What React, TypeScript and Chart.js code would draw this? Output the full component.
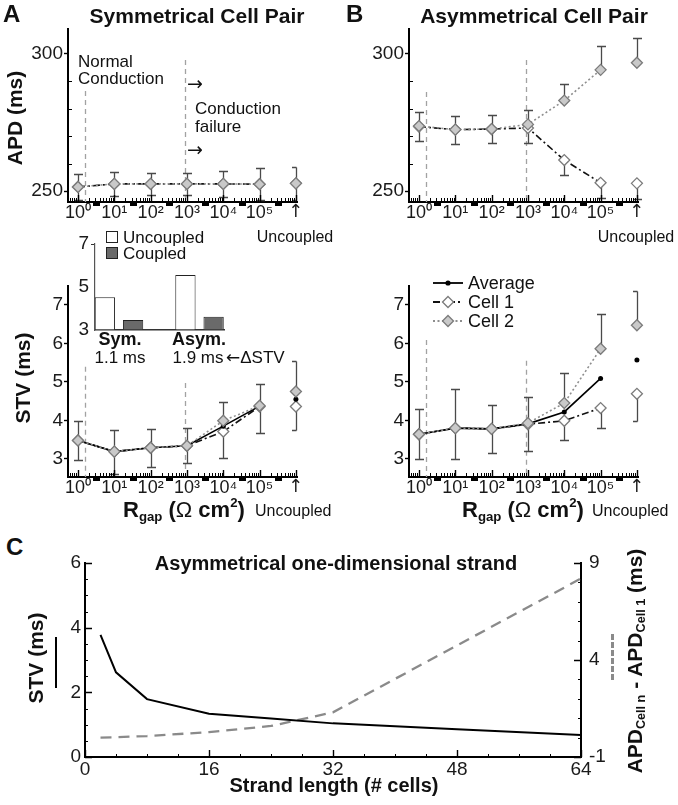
import React, { useEffect, useRef } from 'react';
import { Chart, registerables } from 'chart.js';

Chart.register(...registerables);

const SANS = '"Liberation Sans", Arial, Helvetica, sans-serif';
const ARROWFONT = '"DejaVu Sans", "Liberation Sans", sans-serif';

// ---------------- data ----------------
const rgapPositions = [0, 1, 2, 3, 4, 5, 6];
const rgapTickLabels = ['10⁰', '10¹', '10²', '10³', '10⁴', '10⁵', '↑'];
const conductionBounds = [0.19, 2.95];

// Panel A (top): APD, symmetrical cell pair
const apdSymCell1 = [251.5, 252.6, 252.6, 252.6, 252.6, 252.5, 252.8];
const apdSymCell2 = [251.5, 252.6, 252.6, 252.6, 252.6, 252.5, 252.8];
const apdSymErr = [4.7, 4.3, 4.1, 4.0, 4.7, 5.8, 6.1];
const apdSymBoundTops = [286.5, 297.8];

// Panel B (top): APD, asymmetrical cell pair
const apdAsymCell1 = [273.5, 272.4, 272.6, 273.0, 261.3, 253.0, 252.8];
const apdAsymCell2 = [273.7, 272.4, 272.6, 274.3, 283.0, 294.2, 296.8];
const apdAsymErrUp = [5.2, 5.1, 5.2, 5.3, 6.2, 8.6, 8.9];
const apdAsymErrDown = [5.1, 5.2, 5.0, 5.4, 5.5, 5.7, 5.8];
const apdAsymBoundTops = [286.1, 297.8];

// Panel A (bottom): STV, symmetrical
const stvSymCell1 = [3.48, 3.19, 3.29, 3.34, 3.71, 4.36, 4.36];
const stvSymCell2 = [3.48, 3.19, 3.29, 3.34, 3.99, 4.38, 4.75];
const stvSymAvg = [3.48, 3.19, 3.29, 3.34, 3.85, 4.37, 4.55];
const stvSymErrUp = [0.51, 0.55, 0.48, 0.46, 0.5, 0.56, 0.78];
const stvSymErrDown = [0.51, 0.58, 0.49, 0.45, 0.68, 0.68, 0.62];
const stvSymBoundTops = [5.39, 4.97];

// Panel B (bottom): STV, asymmetrical
const stvAsymCell1 = [3.64, 3.8, 3.78, 3.9, 3.99, 4.32, 4.69];
const stvAsymCell2 = [3.64, 3.8, 3.78, 3.93, 4.45, 5.86, 6.47];
const stvAsymAvg = [3.64, 3.8, 3.78, 3.91, 4.22, 5.09, 5.57];
const stvAsymErrUp = [0.65, 1.01, 0.63, 0.67, 0.78, 0.9, 0.89];
const stvAsymErrDown = [0.64, 0.8, 0.63, 0.69, 0.5, 0.52, 0.7];
const stvAsymBoundTops = [6.09, 5.55];

// Inset bar chart
const insetGroups = ['Sym.', 'Asym.'];
const insetUncoupled = [4.52, 5.56];
const insetCoupled = [3.47, 3.62];
const insetDeltaSTV = ['1.1 ms', '1.9 ms'];
const insetTicks = [3, 5, 7];

// Panel C: strand
const strandLength = [2, 4, 8, 16, 24, 32, 48, 64];
const strandSTV = [3.78, 2.62, 1.79, 1.34, 1.19, 1.04, 0.86, 0.68];
const strandApdDiff = [0.0, 0.02, 0.08, 0.28, 0.6, 1.3, 4.75, 8.2];
const strandXTicks = [0, 16, 32, 48, 64];
const strandXMinor = [4, 8, 12, 20, 24, 28, 36, 40, 44, 52, 56, 60];
const strandYTicks = [0, 2, 4, 6];
const strandYMinor = [0.5, 1, 1.5, 2.5, 3, 3.5, 4.5, 5, 5.5];
const strandY2Ticks = [-1, 4, 9];
const strandY2Minor = [0, 1, 2, 3, 5, 6, 7, 8];

// log minor ticks of the R_gap axis
const rgapMinor: number[] = [];
for (let k = -1; k <= 5; k++) {
  for (let m = 2; m <= 9; m++) {
    const v = k + Math.log10(m);
    if (v > -0.27 && v < 5.99) rgapMinor.push(v);
  }
}
const rgapMarks = [0.52, 1.52, 2.52, 3.52, 4.52, 5.52];

// ---------------- helpers ----------------
type Box = { x: number; y: number; w: number; h: number };
type Area = { l: number; t: number; r: number; b: number };

function pad(box: Box, area: Area, yw: number, xh: number, y2w = 0) {
  return {
    left: area.l - box.x - yw,
    right: box.x + box.w - area.r - y2w,
    top: area.t - box.y,
    bottom: box.y + box.h - area.b - xh,
  };
}

type TickSpec = { scale: string; values: number[]; len: number; dir: number; width?: number; color?: string };
type Decor = {
  ticks?: TickSpec[];
  marks?: number[];
  vlines?: { x: number; top: number }[];
  after?: (chart: any) => void;
};

function makeDecor(id: string, d: Decor) {
  return {
    id,
    beforeDatasetsDraw(chart: any) {
      const ctx = chart.ctx;
      const a = chart.chartArea;
      ctx.save();
      ctx.beginPath();
      ctx.rect(a.left, a.top, a.right - a.left + 12, a.bottom - a.top);
      ctx.clip();
      if (d.vlines) {
        const xs = chart.scales.x;
        const ys = chart.scales.y;
        ctx.strokeStyle = '#a2a2a2';
        ctx.lineWidth = 1.3;
        ctx.setLineDash([5, 4]);
        d.vlines.forEach((v) => {
          const px = Math.round(xs.getPixelForValue(v.x)) + 0.5;
          ctx.beginPath();
          ctx.moveTo(px, ys.getPixelForValue(v.top));
          ctx.lineTo(px, a.bottom);
          ctx.stroke();
        });
        ctx.setLineDash([]);
      }
      chart.data.datasets.forEach((ds: any, di: number) => {
        if (!ds.errUp && !ds.errDown) return;
        const meta = chart.getDatasetMeta(di);
        const ys = chart.scales[meta.yAxisID];
        ctx.strokeStyle = '#4a4a4a';
        ctx.lineWidth = 1.3;
        meta.data.forEach((el: any, i: number) => {
          const v = ds.data[i].y;
          const x = Math.round(el.x) + 0.5;
          const y0 = ys.getPixelForValue(v);
          const bracket = ds.bracket && ds.bracket.includes(i);
          const cap = (y: number) => {
            ctx.moveTo(x - 4.5, y);
            ctx.lineTo(bracket ? x : x + 4.5, y);
          };
          ctx.beginPath();
          if (ds.errUp) {
            const y1 = Math.round(ys.getPixelForValue(v + ds.errUp[i])) + 0.5;
            ctx.moveTo(x, y0);
            ctx.lineTo(x, y1);
            cap(y1);
          }
          if (ds.errDown) {
            const y2 = Math.round(ys.getPixelForValue(v - ds.errDown[i])) + 0.5;
            ctx.moveTo(x, y0);
            ctx.lineTo(x, y2);
            cap(y2);
          }
          ctx.stroke();
        });
      });
      ctx.restore();
    },
    afterDraw(chart: any) {
      const ctx = chart.ctx;
      const a = chart.chartArea;
      ctx.save();
      (d.ticks || []).forEach((t) => {
        const s = chart.scales[t.scale];
        ctx.strokeStyle = t.color || '#000';
        ctx.lineWidth = t.width || 1.1;
        ctx.beginPath();
        t.values.forEach((v) => {
          const p = Math.round(s.getPixelForValue(v)) + 0.5;
          const inn = t.dir >= 0 ? t.len : 0;
          const out = t.dir <= 0 ? t.len : 0;
          if (s.isHorizontal()) {
            ctx.moveTo(p, a.bottom + out);
            ctx.lineTo(p, a.bottom - inn);
          } else {
            const left = s.position === 'left';
            const x0 = left ? a.left : a.right;
            const sg = left ? 1 : -1;
            ctx.moveTo(x0 - sg * out, p);
            ctx.lineTo(x0 + sg * inn, p);
          }
        });
        ctx.stroke();
      });
      if (d.marks) {
        const s = chart.scales.x;
        ctx.fillStyle = '#000';
        d.marks.forEach((v) => {
          const p = s.getPixelForValue(v);
          ctx.fillRect(Math.round(p - 3.5), a.bottom + 1, 7, 3);
        });
      }
      if (d.after) d.after(chart);
      ctx.restore();
    },
  };
}

type RgapParams = {
  id: string;
  box: Box;
  area: Area;
  yMin: number;
  yMax: number;
  yTicks: number[];
  yMinor?: number[];
  cell1: number[];
  cell2: number[];
  avg?: number[];
  errUp: number[];
  errDown: number[];
  bracket: number[];
  boundTops: number[];
  after?: (chart: any) => void;
};

function rgapConfig(p: RgapParams) {
  const last = rgapPositions.length - 1;
  const pts = (vals: number[]) => vals.map((v, i) => ({ x: rgapPositions[i], y: v }));
  const hideLast = {
    borderColor: (c: any) => (c.p1DataIndex === last ? 'rgba(0,0,0,0)' : undefined),
  };
  const datasets: any[] = [
    {
      label: 'Cell 2',
      data: pts(p.cell2),
      borderColor: '#8e8e8e',
      borderWidth: 1.6,
      borderDash: [2, 2.5],
      pointStyle: 'rectRot',
      pointRadius: 5.5,
      pointBackgroundColor: '#c9c9c9',
      pointBorderColor: '#7b7b7b',
      pointBorderWidth: 1.3,
      segment: hideLast,
      errUp: p.errUp,
      bracket: p.bracket,
      clip: false,
      tension: 0,
    },
  ];
  if (p.avg) {
    datasets.push({
      label: 'Average',
      data: pts(p.avg),
      borderColor: '#000',
      borderWidth: 1.6,
      pointStyle: 'circle',
      pointRadius: 2.5,
      pointBackgroundColor: '#000',
      pointBorderWidth: 0,
      segment: hideLast,
      clip: false,
      tension: 0,
    });
  }
  datasets.push({
    label: 'Cell 1',
    data: pts(p.cell1),
    borderColor: '#111',
    borderWidth: 1.6,
    borderDash: [7, 3, 2, 3],
    pointStyle: 'rectRot',
    pointRadius: 5.5,
    pointBackgroundColor: '#ffffff',
    pointBorderColor: '#7b7b7b',
    pointBorderWidth: 1.3,
    segment: hideLast,
    errDown: p.errDown,
    bracket: p.bracket,
    clip: false,
    tension: 0,
  });
  const yw = 60;
  const xh = 26;
  const ticks: TickSpec[] = [
    { scale: 'x', values: rgapPositions, len: 7, dir: 1, width: 1.4 },
    { scale: 'x', values: rgapMinor, len: 4, dir: 1, width: 1 },
  ];
  if (p.yMinor) ticks.push({ scale: 'y', values: p.yMinor, len: 4, dir: 1, width: 1 });
  return {
    type: 'line',
    data: { datasets },
    options: {
      animation: false,
      responsive: false,
      devicePixelRatio: 1,
      layout: { padding: pad(p.box, p.area, yw, xh) },
      plugins: { legend: { display: false }, tooltip: { enabled: false } },
      scales: {
        x: {
          type: 'linear',
          min: -0.275,
          max: 6.03,
          afterBuildTicks: (s: any) => {
            s.ticks = rgapPositions.map((v) => ({ value: v }));
          },
          afterFit: (s: any) => {
            s.height = xh;
          },
          ticks: {
            callback: (v: number) => {
              const i = rgapPositions.indexOf(v);
              return i >= 0 ? rgapTickLabels[i] : '';
            },
            font: (c: any) =>
              c.tick && c.tick.value === last
                ? { family: ARROWFONT, size: 18 }
                : { family: SANS, size: 18 },
            color: '#1a1a1a',
            padding: 0,
            maxRotation: 0,
            autoSkip: false,
          },
          grid: { display: false, drawTicks: false },
          border: { display: true, color: '#000', width: 2 },
        },
        y: {
          type: 'linear',
          min: p.yMin,
          max: p.yMax,
          afterBuildTicks: (s: any) => {
            s.ticks = p.yTicks.map((v) => ({ value: v }));
          },
          afterFit: (s: any) => {
            s.width = yw;
          },
          ticks: {
            font: { family: SANS, size: 19 },
            color: '#1a1a1a',
            padding: 1,
          },
          grid: {
            display: true,
            drawOnChartArea: false,
            drawTicks: true,
            tickLength: 4,
            tickColor: '#000',
            tickWidth: 1.4,
          },
          border: { display: true, color: '#000', width: 2 },
        },
      },
    },
    plugins: [
      makeDecor(p.id, {
        ticks,
        marks: rgapMarks,
        vlines: conductionBounds.map((x, i) => ({ x, top: p.boundTops[i] })),
        after: p.after,
      }),
    ],
  };
}

function drawLegendSamples(chart: any, ox: number, oy: number) {
  const ctx = chart.ctx;
  const rows = [283, 302, 321];
  const x1 = 433 - ox;
  const x2 = 463 - ox;
  const xm = 448 - ox;
  const diamond = (x: number, y: number, fill: string) => {
    ctx.beginPath();
    ctx.moveTo(x, y - 5.5);
    ctx.lineTo(x + 5.5, y);
    ctx.lineTo(x, y + 5.5);
    ctx.lineTo(x - 5.5, y);
    ctx.closePath();
    ctx.fillStyle = fill;
    ctx.fill();
    ctx.strokeStyle = '#7b7b7b';
    ctx.lineWidth = 1.3;
    ctx.setLineDash([]);
    ctx.stroke();
  };
  const line = (y: number, color: string, dash: number[]) => {
    ctx.beginPath();
    ctx.strokeStyle = color;
    ctx.lineWidth = 1.8;
    ctx.setLineDash(dash);
    ctx.moveTo(x1, y);
    ctx.lineTo(x2, y);
    ctx.stroke();
    ctx.setLineDash([]);
  };
  const y0 = rows[0] - oy;
  line(y0, '#000', []);
  ctx.beginPath();
  ctx.fillStyle = '#000';
  ctx.arc(xm, y0, 2.6, 0, Math.PI * 2);
  ctx.fill();
  const y1 = rows[1] - oy;
  line(y1, '#111', [7, 3, 2, 3]);
  diamond(xm, y1, '#ffffff');
  const y2 = rows[2] - oy;
  line(y2, '#8e8e8e', [2, 2.5]);
  diamond(xm, y2, '#c9c9c9');
}

const boxATop: Box = { x: 0, y: 0, w: 340, h: 230 };
const boxBTop: Box = { x: 341, y: 0, w: 337, h: 230 };
const boxABot: Box = { x: 0, y: 258, w: 340, h: 245 };
const boxBBot: Box = { x: 341, y: 258, w: 337, h: 245 };
const boxInset: Box = { x: 60, y: 228, w: 200, h: 125 };
const boxC: Box = { x: 40, y: 540, w: 600, h: 265 };

const areaATop: Area = { l: 68, t: 29, r: 297, b: 202 };
const areaBTop: Area = { l: 409, t: 29, r: 638, b: 202 };
const areaABot: Area = { l: 68, t: 286, r: 297, b: 477 };
const areaBBot: Area = { l: 409, t: 286, r: 638, b: 477 };
const areaInset: Area = { l: 95, t: 244, r: 224, b: 330 };
const areaC: Area = { l: 85, t: 563, r: 581, b: 757 };

function makeATop() {
  return rgapConfig({
    id: 'decorATop',
    box: boxATop,
    area: areaATop,
    yMin: 246,
    yMax: 309.1,
    yTicks: [250, 300],
    yMinor: [260, 270, 280, 290],
    cell1: apdSymCell1,
    cell2: apdSymCell2,
    errUp: apdSymErr,
    errDown: apdSymErr,
    bracket: [6],
    boundTops: apdSymBoundTops,
  });
}

function makeBTop() {
  return rgapConfig({
    id: 'decorBTop',
    box: boxBTop,
    area: areaBTop,
    yMin: 246,
    yMax: 309.1,
    yTicks: [250, 300],
    yMinor: [260, 270, 280, 290],
    cell1: apdAsymCell1,
    cell2: apdAsymCell2,
    errUp: apdAsymErrUp,
    errDown: apdAsymErrDown,
    bracket: [],
    boundTops: apdAsymBoundTops,
  });
}

function makeABot() {
  return rgapConfig({
    id: 'decorABot',
    box: boxABot,
    area: areaABot,
    yMin: 2.53,
    yMax: 7.49,
    yTicks: [3, 4, 5, 6, 7],
    cell1: stvSymCell1,
    cell2: stvSymCell2,
    avg: stvSymAvg,
    errUp: stvSymErrUp,
    errDown: stvSymErrDown,
    bracket: [6],
    boundTops: stvSymBoundTops,
  });
}

function makeBBot() {
  return rgapConfig({
    id: 'decorBBot',
    box: boxBBot,
    area: areaBBot,
    yMin: 2.53,
    yMax: 7.49,
    yTicks: [3, 4, 5, 6, 7],
    cell1: stvAsymCell1,
    cell2: stvAsymCell2,
    avg: stvAsymAvg,
    errUp: stvAsymErrUp,
    errDown: stvAsymErrDown,
    bracket: [6],
    boundTops: stvAsymBoundTops,
    after: (chart: any) => drawLegendSamples(chart, boxBBot.x, boxBBot.y),
  });
}

function makeInset() {
  const yw = 30;
  return {
    type: 'bar',
    data: {
      datasets: [
        {
          label: 'Uncoupled',
          data: insetUncoupled.map((v, i) => ({ x: i, y: v })),
          backgroundColor: '#ffffff',
          borderColor: '#222',
          borderWidth: 1,
          base: 3,
          categoryPercentage: 0.7,
          barPercentage: 0.72,
        },
        {
          label: 'Coupled',
          data: insetCoupled.map((v, i) => ({ x: i, y: v })),
          backgroundColor: '#6a6a6a',
          borderColor: '#222',
          borderWidth: 1,
          base: 3,
          categoryPercentage: 0.7,
          barPercentage: 0.72,
        },
      ],
    },
    options: {
      animation: false,
      responsive: false,
      devicePixelRatio: 1,
      layout: { padding: pad(boxInset, areaInset, yw, 0) },
      plugins: { legend: { display: false }, tooltip: { enabled: false } },
      scales: {
        x: {
          type: 'linear',
          min: -0.298,
          max: 1.304,
          offset: false,
          afterFit: (s: any) => {
            s.height = 0;
          },
          ticks: { display: false },
          grid: { display: false, drawTicks: false },
          border: { display: true, color: '#333', width: 1.5 },
        },
        y: {
          type: 'linear',
          min: 3,
          max: 7,
          afterBuildTicks: (s: any) => {
            s.ticks = insetTicks.map((v) => ({ value: v }));
          },
          afterFit: (s: any) => {
            s.width = yw;
          },
          ticks: { font: { family: SANS, size: 19 }, color: '#1a1a1a', padding: 2 },
          grid: {
            display: true,
            drawOnChartArea: false,
            drawTicks: true,
            tickLength: 4,
            tickWidth: 1,
            tickColor: (c: any) => (c.tick && c.tick.value === 7 ? '#333' : 'rgba(0,0,0,0)'),
          },
          border: { display: true, color: '#555', width: 1.2 },
        },
      },
    },
  };
}

function makeC() {
  const yw = 30;
  const y2w = 30;
  const xh = 28;
  return {
    type: 'line',
    data: {
      datasets: [
        {
          label: 'STV',
          data: strandLength.map((x, i) => ({ x, y: strandSTV[i] })),
          borderColor: '#000',
          borderWidth: 2,
          pointRadius: 0,
          yAxisID: 'y',
          tension: 0,
        },
        {
          label: 'APD difference',
          data: strandLength.map((x, i) => ({ x, y: strandApdDiff[i] })),
          borderColor: '#8a8a8a',
          borderWidth: 2.3,
          borderDash: [11, 7],
          pointRadius: 0,
          yAxisID: 'y2',
          tension: 0,
        },
      ],
    },
    options: {
      animation: false,
      responsive: false,
      devicePixelRatio: 1,
      layout: { padding: pad(boxC, areaC, yw, xh, y2w) },
      plugins: { legend: { display: false }, tooltip: { enabled: false } },
      scales: {
        x: {
          type: 'linear',
          min: 0,
          max: 64,
          afterBuildTicks: (s: any) => {
            s.ticks = strandXTicks.map((v) => ({ value: v }));
          },
          afterFit: (s: any) => {
            s.height = xh;
          },
          ticks: { font: { family: SANS, size: 19 }, color: '#1a1a1a', padding: 1, maxRotation: 0, autoSkip: false },
          grid: { display: false, drawTicks: false },
          border: { display: true, color: '#000', width: 2 },
        },
        y: {
          type: 'linear',
          position: 'left',
          min: 0,
          max: 6,
          afterBuildTicks: (s: any) => {
            s.ticks = strandYTicks.map((v) => ({ value: v }));
          },
          afterFit: (s: any) => {
            s.width = yw;
          },
          ticks: { font: { family: SANS, size: 19 }, color: '#1a1a1a', padding: 4 },
          grid: { display: false, drawTicks: false },
          border: { display: true, color: '#000', width: 2 },
        },
        y2: {
          type: 'linear',
          position: 'right',
          min: -1,
          max: 9,
          afterBuildTicks: (s: any) => {
            s.ticks = strandY2Ticks.map((v) => ({ value: v }));
          },
          afterFit: (s: any) => {
            s.width = y2w;
          },
          ticks: { font: { family: SANS, size: 19 }, color: '#1a1a1a', padding: 8 },
          grid: { display: false, drawTicks: false },
          border: { display: true, color: '#000', width: 2 },
        },
      },
    },
    plugins: [
      makeDecor('decorC', {
        ticks: [
          { scale: 'x', values: strandXTicks, len: 7, dir: 1, width: 1.4 },
          { scale: 'x', values: strandXMinor, len: 3, dir: 1, width: 1 },
          { scale: 'y', values: strandYTicks, len: 7, dir: 1, width: 1.4 },
          { scale: 'y', values: strandYMinor, len: 3, dir: 1, width: 1 },
          { scale: 'y2', values: strandY2Ticks, len: 7, dir: 1, width: 1.4 },
          { scale: 'y2', values: strandY2Minor, len: 3, dir: 1, width: 1 },
        ],
      }),
    ],
  };
}

function ChartBox({ box, make }: { box: Box; make: () => any }) {
  const ref = useRef<HTMLCanvasElement | null>(null);
  useEffect(() => {
    if (!ref.current) return;
    const chart = new Chart(ref.current, make());
    return () => chart.destroy();
  }, []);
  return (
    <canvas
      ref={ref}
      width={box.w}
      height={box.h}
      style={{ position: 'absolute', left: box.x, top: box.y, width: box.w, height: box.h }}
    />
  );
}

type TProps = {
  x: number;
  y: number;
  children: React.ReactNode;
  size?: number;
  bold?: boolean;
  anchor?: 'left' | 'center' | 'right';
  rotate?: boolean;
  color?: string;
};

function T({ x, y, children, size = 18, bold = false, anchor = 'left', rotate = false, color = '#111' }: TProps) {
  const tx = anchor === 'center' || rotate ? '-50%' : anchor === 'right' ? '-100%' : '0';
  return (
    <div
      style={{
        position: 'absolute',
        left: x,
        top: y,
        transform: `translate(${tx}, -50%)` + (rotate ? ' rotate(-90deg)' : ''),
        fontFamily: SANS,
        fontSize: size,
        fontWeight: bold ? 'bold' : 'normal',
        lineHeight: 1,
        whiteSpace: 'nowrap',
        color,
      }}
    >
      {children}
    </div>
  );
}

const subStyle: React.CSSProperties = { fontSize: '0.6em', verticalAlign: '-0.3em', lineHeight: 0 };
const supStyle: React.CSSProperties = { fontSize: '0.6em', verticalAlign: '0.75em', lineHeight: 0 };
const arrowStyle: React.CSSProperties = { fontFamily: ARROWFONT };

function Rgap({ x, y }: { x: number; y: number }) {
  return (
    <T x={x} y={y} size={22} bold>
      R<span style={subStyle}>gap</span> (<span style={{ fontWeight: 'normal' }}>Ω</span> cm
      <span style={supStyle}>2</span>)
    </T>
  );
}

export default function App() {
  return (
    <div
      style={{
        position: 'absolute',
        left: 0,
        top: 0,
        width: 678,
        height: 805,
        overflow: 'hidden',
        background: '#ffffff',
      }}
    >
      <ChartBox box={boxATop} make={makeATop} />
      <ChartBox box={boxBTop} make={makeBTop} />
      <ChartBox box={boxABot} make={makeABot} />
      <ChartBox box={boxBBot} make={makeBBot} />
      <ChartBox box={boxInset} make={makeInset} />
      <ChartBox box={boxC} make={makeC} />

      {/* panel letters and titles */}
      <T x={3} y={14} size={24} bold>A</T>
      <T x={346} y={14} size={24} bold>B</T>
      <T x={6} y={547} size={24} bold>C</T>
      <T x={197} y={15} size={21} bold anchor="center">Symmetrical Cell Pair</T>
      <T x={534} y={15} size={21} bold anchor="center">Asymmetrical Cell Pair</T>

      {/* axis titles */}
      <T x={14} y={118} size={21} bold rotate>APD (ms)</T>
      <T x={22} y={378} size={21} bold rotate>STV (ms)</T>

      {/* annotations panel A top */}
      <T x={78} y={61} size={17}>Normal</T>
      <T x={78} y={78} size={17}>Conduction</T>
      <T x={187} y={83} size={19}><span style={arrowStyle}>→</span></T>
      <T x={195} y={108} size={17}>Conduction</T>
      <T x={195} y={126} size={17}>failure</T>
      <T x={187} y={149} size={19}><span style={arrowStyle}>→</span></T>

      <T x={295} y={237} size={16} anchor="center">Uncoupled</T>
      <T x={636} y={237} size={16} anchor="center">Uncoupled</T>

      {/* inset legend and labels */}
      <div style={{ position: 'absolute', left: 106, top: 231, width: 10, height: 10, border: '1px solid #222', background: '#fff' }} />
      <div style={{ position: 'absolute', left: 106, top: 247, width: 10, height: 10, border: '1px solid #222', background: '#6a6a6a' }} />
      <T x={123} y={237} size={17}>Uncoupled</T>
      <T x={123} y={253} size={17}>Coupled</T>
      <T x={120} y={339} size={18} bold anchor="center">{insetGroups[0]}</T>
      <T x={199} y={339} size={18} bold anchor="center">{insetGroups[1]}</T>
      <T x={120} y={357} size={17} anchor="center">{insetDeltaSTV[0]}</T>
      <T x={198} y={357} size={17} anchor="center">{insetDeltaSTV[1]}</T>
      <T x={226} y={357} size={17}><span style={arrowStyle}>←</span>ΔSTV</T>

      {/* legend panel B bottom */}
      <T x={468} y={283} size={18}>Average</T>
      <T x={468} y={302} size={18}>Cell 1</T>
      <T x={468} y={321} size={18}>Cell 2</T>

      {/* x-axis titles of R_gap panels */}
      <Rgap x={123} y={510} />
      <T x={255} y={511} size={16}>Uncoupled</T>
      <Rgap x={462} y={510} />
      <T x={592} y={511} size={16}>Uncoupled</T>

      {/* panel C */}
      <T x={336} y={563} size={20} bold anchor="center">Asymmetrical one-dimensional strand</T>
      <T x={334} y={785} size={20} bold anchor="center">Strand length (# cells)</T>
      <T x={35} y={658} size={21} bold rotate>STV (ms)</T>
      <div style={{ position: 'absolute', left: 55, top: 637, width: 2, height: 51, background: '#000' }} />
      <T x={634} y={661} size={21} bold rotate>
        APD<span style={subStyle}>Cell n</span> - APD<span style={subStyle}>Cell 1</span> (ms)
      </T>
      <div style={{ position: 'absolute', left: 611, top: 634, width: 0, height: 46, borderLeft: '3px dashed #8a8a8a' }} />
    </div>
  );
}
